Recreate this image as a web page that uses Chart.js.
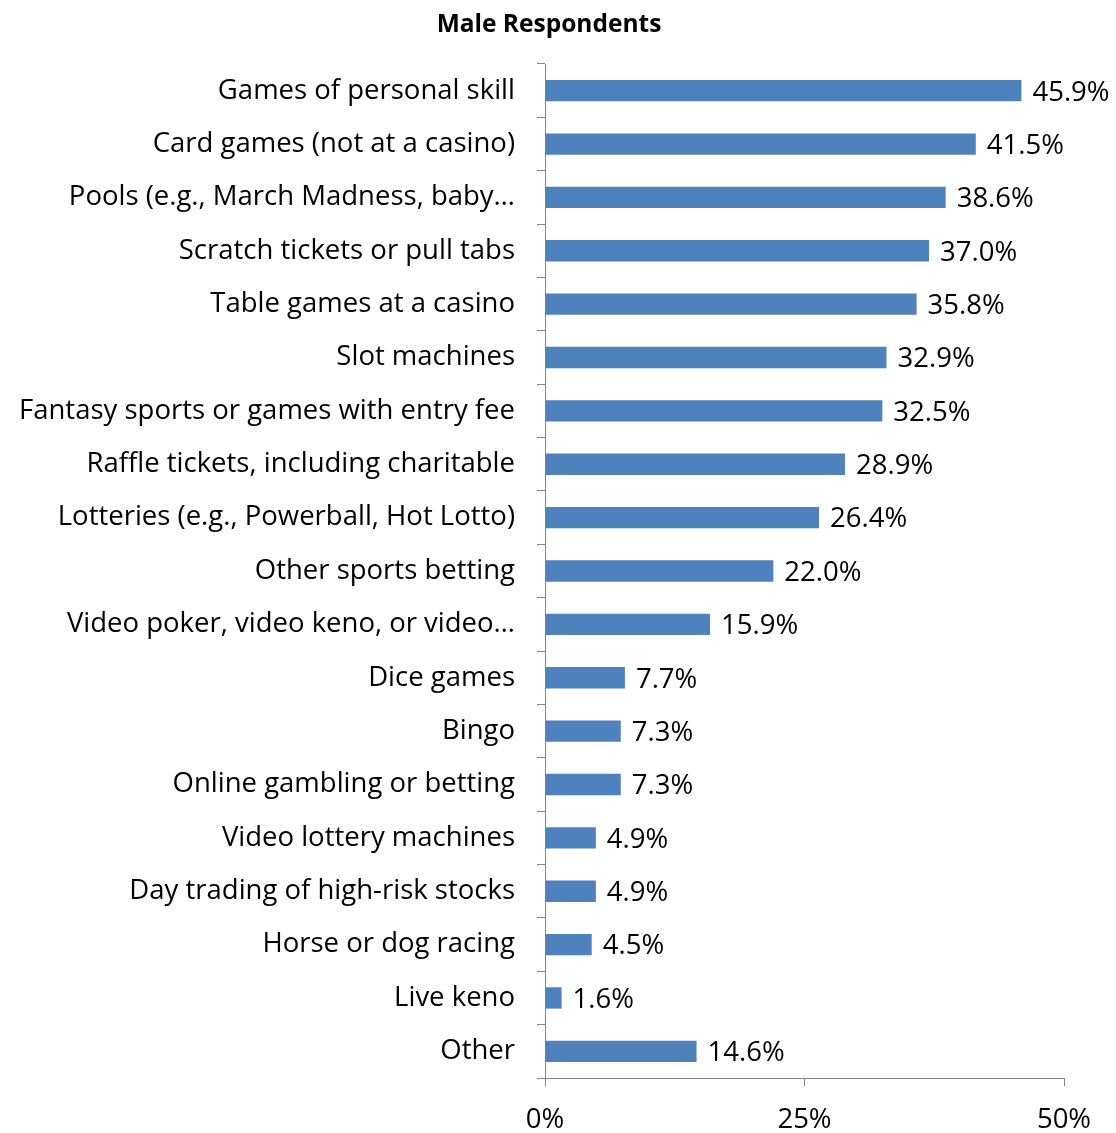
<!DOCTYPE html>
<html>
<head>
<meta charset="utf-8">
<script src="https://cdn.jsdelivr.net/npm/chart.js@4"></script>
<style>
  html, body { margin: 0; padding: 0; background: #fff; }
  #wrap { width: 1116px; height: 1133px; }
</style>
</head>
<body>
<div id="wrap"><canvas id="maleChart" width="1116" height="1133"></canvas></div>
<script>
// Categories and percentages
const categories = [
  "Games of personal skill",
  "Card games (not at a casino)",
  "Pools (e.g., March Madness, baby\u2026",
  "Scratch tickets or pull tabs",
  "Table games at a casino",
  "Slot machines",
  "Fantasy sports or games with entry fee",
  "Raffle tickets, including charitable",
  "Lotteries (e.g., Powerball, Hot Lotto)",
  "Other sports betting",
  "Video poker, video keno, or video\u2026",
  "Dice games",
  "Bingo",
  "Online gambling or betting",
  "Video lottery machines",
  "Day trading of high-risk stocks",
  "Horse or dog racing",
  "Live keno",
  "Other"
];
const percentages = [45.9, 41.5, 38.6, 37.0, 35.8, 32.9, 32.5, 28.9, 26.4, 22.0, 15.9, 7.7, 7.3, 7.3, 4.9, 4.9, 4.5, 1.6, 14.6];
const xTicks = [0, 25, 50];
const chartTitle = "Male Respondents";

const FONT = "'Open Sans', Lato, sans-serif";
const axisGray = "#868686";

// draw the value next to each bar
const valueLabels = {
  id: "valueLabels",
  afterDatasetsDraw(chart) {
    const ctx = chart.ctx;
    const meta = chart.getDatasetMeta(0);
    ctx.save();
    ctx.font = "27.5px " + FONT;
    ctx.fillStyle = "#000";
    ctx.textAlign = "left";
    ctx.textBaseline = "middle";
    meta.data.forEach((bar, i) => {
      ctx.fillText(percentages[i].toFixed(1) + "%", bar.x + 11, bar.y + 2);
    });
    ctx.restore();
  }
};

// title sits a bit right of the canvas centre in the original
const topTitle = {
  id: "topTitle",
  afterDraw(chart) {
    const ctx = chart.ctx;
    ctx.save();
    ctx.font = "bold 24.5px " + FONT;
    ctx.fillStyle = "#000";
    ctx.textAlign = "center";
    ctx.textBaseline = "middle";
    ctx.fillText(chartTitle, 549, 25);
    ctx.restore();
  }
};

const ctx = document.getElementById("maleChart").getContext("2d");
new Chart(ctx, {
  type: "bar",
  data: {
    labels: categories,
    datasets: [{
      data: percentages,
      backgroundColor: "#4F81BD",
      borderWidth: 0,
      categoryPercentage: 0.4,
      barPercentage: 1.0
    }]
  },
  options: {
    indexAxis: "y",
    responsive: false,
    animation: false,
    layout: { padding: { left: 0, right: 52, top: 64, bottom: 0 } },
    scales: {
      x: {
        min: 0,
        max: 50,
        afterBuildTicks: axis => { axis.ticks = xTicks.map(v => ({ value: v })); },
        afterFit: axis => { axis.height = 55; },
        border: { color: axisGray, width: 1 },
        grid: { drawOnChartArea: false, drawTicks: true, tickLength: 8, color: axisGray },
        ticks: {
          color: "#000",
          font: { family: FONT, size: 27.5 },
          padding: 18,
          callback: v => v + "%"
        }
      },
      y: {
        afterFit: axis => { axis.width = 545; },
        border: { color: axisGray, width: 1 },
        grid: { offset: true, drawOnChartArea: false, drawTicks: true, tickLength: 8, color: axisGray },
        ticks: {
          color: "#000",
          font: { family: FONT, size: 27.5 },
          padding: 22,
          autoSkip: false
        }
      }
    },
    plugins: {
      legend: { display: false },
      tooltip: { enabled: false },
      title: { display: false }
    }
  },
  plugins: [valueLabels, topTitle]
});
</script>
</body>
</html>
